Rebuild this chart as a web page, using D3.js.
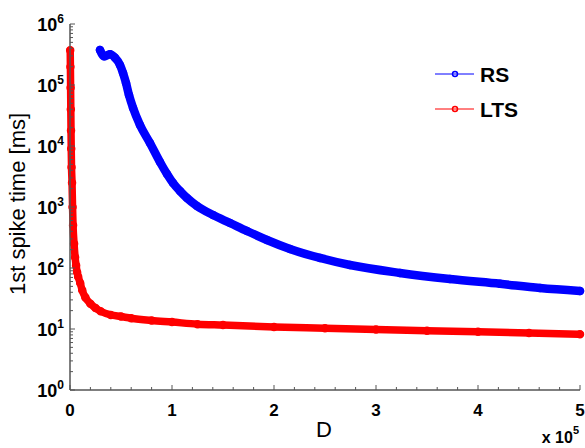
<!DOCTYPE html>
<html><head><meta charset="utf-8">
<script src="https://cdn.jsdelivr.net/npm/d3@7"></script>
<style>body{margin:0;background:#fff}svg{display:block}text{font-family:"Liberation Sans",Arial,sans-serif}</style>
</head><body>
<svg id="c" width="585" height="448"></svg>
<script>
// D in units of 1e5, T in ms
const rsD = [0.294,0.335,0.392,0.441,0.490,0.520,0.549,0.578,0.618,0.686,0.784,0.882,0.951,1.010,1.078,1.147,1.245,1.402,1.569,1.735,1.931,2.157,2.451,2.745,3.235,3.725,4.216,4.608,5.0];
const rsT = [375000,295000,320000,280000,213000,157000,108000,68600,42000,22100,11200,5470,3475,2475,1830,1405,1040,740,547,404,288,205,146,112,83,66,55,47,42];
const ltsD = [0.002,0.004,0.006,0.008,0.010,0.012,0.015,0.02,0.025,0.03,0.04,0.05,0.06,0.07,0.08,0.1,0.12,0.15,0.2,0.25,0.3,0.4,0.5,0.6,0.8,1.0,1.25,1.5,2.0,2.5,3.0,3.5,4.0,4.5,5.0];
const ltsT = [370000,200000,90000,40000,18000,9000,4500,2500,1000,500,250,150,110,85,72,57,43,33,26,22,19.5,17,16,15,13.8,13,12,11.6,10.8,10.3,9.8,9.4,9.0,8.6,8.2];
const xTicks = [0,1,2,3,4,5];
const yExps = [0,1,2,3,4,5,6];
const seriesNames = ["RS","LTS"];
const seriesColors = ["#0000ff","#ff0000"];

const svg = d3.select("#c");
const x = d3.scaleLinear().domain([0,5]).range([70,580]);
const y = d3.scaleLog().domain([1,1e6]).range([390,24]);
const axisCol = "#555";

// curves
const line = d3.line().x(d=>x(d[0])).y(d=>y(d[1])).curve(d3.curveMonotoneX);
const widths = [8.5,7.5];
[[rsD,rsT],[ltsD,ltsT]].forEach((s,i)=>{
  const pts = s[0].map((d,j)=>[d,s[1][j]]);
  svg.append("path").datum(pts).attr("d",line).attr("fill","none")
    .attr("stroke",seriesColors[i]).attr("stroke-width",widths[i])
    .attr("stroke-linejoin","round").attr("stroke-linecap","round");
  svg.selectAll(null).data(pts).enter().append("circle")
    .attr("cx",d=>x(d[0])).attr("cy",d=>y(d[1])).attr("r",3.5)
    .attr("fill","none").attr("stroke",seriesColors[i]).attr("stroke-width",1.5);
});

// x axis
const minorX = d3.range(0,25).map(k=>k*0.2).filter(v=>Math.abs(v-Math.round(v))>1e-6);
const gx = svg.append("g");
gx.append("line").attr("x1",70).attr("x2",580).attr("y1",390).attr("y2",390).attr("stroke",axisCol).attr("stroke-width",1.5);
gx.selectAll(".mx").data(minorX).enter().append("line")
  .attr("x1",d=>x(d)).attr("x2",d=>x(d)).attr("y1",390).attr("y2",387).attr("stroke",axisCol);
gx.selectAll(".Mx").data(xTicks).enter().append("line")
  .attr("x1",d=>x(d)).attr("x2",d=>x(d)).attr("y1",390).attr("y2",385).attr("stroke",axisCol);
gx.selectAll(".lx").data(xTicks).enter().append("text")
  .attr("x",d=>x(d)).attr("y",416).attr("text-anchor","middle")
  .attr("font-size",17).attr("font-weight","bold").text(d=>d);

// y axis
const gy = svg.append("g");
gy.append("line").attr("x1",70).attr("x2",70).attr("y1",24).attr("y2",390).attr("stroke",axisCol).attr("stroke-width",1.5);
const minorY = [];
yExps.slice(0,-1).forEach(e=>{for(let m=2;m<=9;m++) minorY.push(m*Math.pow(10,e));});
gy.selectAll(".my").data(minorY).enter().append("line")
  .attr("x1",70).attr("x2",73).attr("y1",d=>y(d)).attr("y2",d=>y(d)).attr("stroke",axisCol);
gy.selectAll(".My").data(yExps).enter().append("line")
  .attr("x1",70).attr("x2",75).attr("y1",d=>y(Math.pow(10,d))).attr("y2",d=>y(Math.pow(10,d))).attr("stroke",axisCol);
const yl = gy.selectAll(".ly").data(yExps).enter().append("text")
  .attr("x",64).attr("y",d=>y(Math.pow(10,d))+7).attr("text-anchor","end")
  .attr("font-size",18).attr("font-weight","bold");
yl.append("tspan").text("10");
yl.append("tspan").attr("font-size",12).attr("dy",-8).text(d=>d);

// axis labels
svg.append("text").attr("x",324).attr("y",437).attr("text-anchor","middle").attr("font-size",22).text("D");
svg.append("text").attr("transform","translate(25,204) rotate(-90)").attr("text-anchor","middle")
  .attr("font-size",22).text("1st spike time [ms]");
const ex = svg.append("text").attr("x",579).attr("y",443).attr("text-anchor","end").attr("font-size",16).attr("font-weight","bold");
ex.append("tspan").text("x 10");
ex.append("tspan").attr("font-size",11).attr("dy",-9).text("5");

// legend
const legY = [74,109];
seriesNames.forEach((n,i)=>{
  const g = svg.append("g");
  g.append("line").attr("x1",435).attr("x2",474).attr("y1",legY[i]).attr("y2",legY[i]).attr("stroke",seriesColors[i]).attr("stroke-width",1);
  g.append("circle").attr("cx",455).attr("cy",legY[i]).attr("r",2.5).attr("fill","none").attr("stroke",seriesColors[i]).attr("stroke-width",1.5);
  g.append("text").attr("x",480).attr("y",legY[i]+8).attr("font-size",21).attr("font-weight","bold").text(n);
});
</script>
</body></html>
